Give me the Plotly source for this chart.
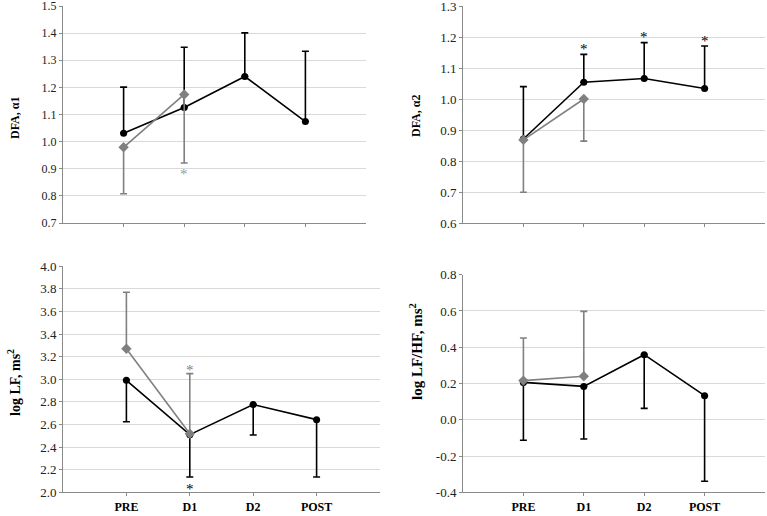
import plotly.graph_objects as go

W, H = 767, 516
categories = ["PRE", "D1", "D2", "POST"]
xpos = [1, 2, 3, 4]

# Panel 1: DFA alpha1
a1_ticks = [0.7, 0.8, 0.9, 1.0, 1.1, 1.2, 1.3, 1.4, 1.5]
a1_black = [1.031, 1.126, 1.240, 1.074]
a1_black_up = [1.201, 1.348, 1.401, 1.333]
a1_gray = [0.979, 1.174]
a1_gray_low = [0.808, 0.921]

# Panel 2: DFA alpha2
a2_ticks = [0.6, 0.7, 0.8, 0.9, 1.0, 1.1, 1.2, 1.3]
a2_black = [0.871, 1.054, 1.066, 1.034]
a2_black_up = [1.040, 1.144, 1.182, 1.171]
a2_gray = [0.868, 1.000]
a2_gray_low = [0.699, 0.864]

# Panel 3: log LF
lf_ticks = [2.0, 2.2, 2.4, 2.6, 2.8, 3.0, 3.2, 3.4, 3.6, 3.8, 4.0]
lf_black = [2.991, 2.510, 2.776, 2.643]
lf_black_low = [2.625, 2.136, 2.507, 2.136]
lf_gray = [3.271, 2.519]
lf_gray_up = [3.770, 3.050]

# Panel 4: log LF/HF
r_ticks = [-0.4, -0.2, 0.0, 0.2, 0.4, 0.6, 0.8]
r_black = [0.206, 0.184, 0.359, 0.133]
r_black_low = [-0.113, -0.106, 0.063, -0.339]
r_gray = [0.216, 0.240]
r_gray_up = [0.451, 0.598]

BLACK = "#000000"
GRAY = "#808080"
FONT = "Liberation Serif, Times New Roman, serif"

def px(x):
    return x / W

def py(y):
    return 1 - y / H

fig = go.Figure()

def add_series(n, y, err, direction, color, symbol):
    xs = xpos[:len(y)]
    if direction == "up":
        plus = [e - v for e, v in zip(err, y)]
        minus = [0] * len(y)
    else:
        plus = [0] * len(y)
        minus = [v - e for e, v in zip(err, y)]
    sx = "" if n == 1 else str(n)
    fig.add_trace(go.Scatter(
        x=xs, y=y, mode="lines+markers",
        xaxis="x" + sx, yaxis="y" + sx,
        line=dict(color=color, width=1.6),
        marker=dict(color=color, size=7 if symbol == "circle" else 8, symbol=symbol),
        error_y=dict(type="data", symmetric=False, array=plus, arrayminus=minus,
                     color=color, thickness=1.6, width=3.5),
        showlegend=False, hoverinfo="skip"))

add_series(1, a1_black, a1_black_up, "up", BLACK, "circle")
add_series(1, a1_gray, a1_gray_low, "down", GRAY, "diamond")
add_series(2, a2_black, a2_black_up, "up", BLACK, "circle")
add_series(2, a2_gray, a2_gray_low, "down", GRAY, "diamond")
add_series(3, lf_black, lf_black_low, "down", BLACK, "circle")
add_series(3, lf_gray, lf_gray_up, "up", GRAY, "diamond")
add_series(4, r_black, r_black_low, "down", BLACK, "circle")
add_series(4, r_gray, r_gray_up, "up", GRAY, "diamond")

panels = {
    1: dict(x=[63, 366], y=[223, 6], ticks=a1_ticks, labels=False, fs=12),
    2: dict(x=[463, 765], y=[223, 6], ticks=a2_ticks, labels=False, fs=13),
    3: dict(x=[63, 380], y=[492.3, 266.3], ticks=lf_ticks, labels=True, fs=13),
    4: dict(x=[463, 765], y=[492.3, 274.7], ticks=r_ticks, labels=True, fs=13),
}

layout = dict(
    width=W, height=H, margin=dict(l=0, r=0, t=0, b=0),
    paper_bgcolor="white", plot_bgcolor="white",
    font=dict(family=FONT, size=12, color="#000000"),
)
for n, p in panels.items():
    sx = "" if n == 1 else str(n)
    t = p["ticks"]
    layout["xaxis" + sx] = dict(
        domain=[px(p["x"][0]), px(p["x"][1])], range=[0, 5],
        anchor="y" + sx, tickmode="array", tickvals=xpos, ticktext=categories,
        showticklabels=p["labels"],
        showgrid=False, zeroline=False, showline=True, linecolor="#8a8a8a",
        linewidth=1, ticks="outside", ticklen=3, tickcolor="#8a8a8a",
        tickfont=dict(family=FONT, size=12, color="#000000", weight="bold"),
        automargin=False, fixedrange=True)
    layout["yaxis" + sx] = dict(
        domain=[py(p["y"][0]), py(p["y"][1])], range=[t[0], t[-1]],
        anchor="x" + sx, tickmode="array", tickvals=t,
        ticktext=["%.1f" % v for v in t], ticklabeloverflow="allow",
        showgrid=True, gridcolor="#d9d9d9", gridwidth=1, zeroline=False,
        showline=True, linecolor="#8a8a8a", linewidth=1,
        ticks="outside", ticklen=3, tickcolor="#8a8a8a",
        tickfont=dict(family=FONT, size=p["fs"], color="#222222"),
        automargin=False, fixedrange=True)

fig.update_layout(**layout)

# y-axis titles
titles = [
    ("<b>DFA, α1</b>", 15, 118, 12),
    ("<b>DFA, α2</b>", 416, 116, 12),
    ("<b>log LF, ms<sup>2</sup></b>", 14, 383, 14),
    ("<b>log LF/HF, ms<sup>2</sup></b>", 416, 352, 15),
]
for t, x, y, fs in titles:
    fig.add_annotation(text=t, x=px(x), y=py(y), xref="paper", yref="paper",
                       textangle=-90, showarrow=False, xanchor="center", yanchor="middle",
                       font=dict(family=FONT, size=fs, color="#000000"))

# significance asterisks
stars = [
    ("x", "y", 2, 0.89, "#9a9a9a"),
    ("x2", "y2", 2, 1.171, BLACK),
    ("x2", "y2", 3, 1.209, BLACK),
    ("x2", "y2", 4, 1.196, BLACK),
    ("x3", "y3", 2, 3.11, GRAY),
    ("x3", "y3", 2, 2.06, BLACK),
]
for xr, yr, x, y, c in stars:
    fig.add_annotation(text="*", x=x, y=y, xref=xr, yref=yr, showarrow=False,
                       yshift=-3, font=dict(family=FONT, size=15, color=c))

fig.write_html("out.html", config={"staticPlot": True},
               post_script="document.body.style.margin='0';document.body.style.padding='0';")
